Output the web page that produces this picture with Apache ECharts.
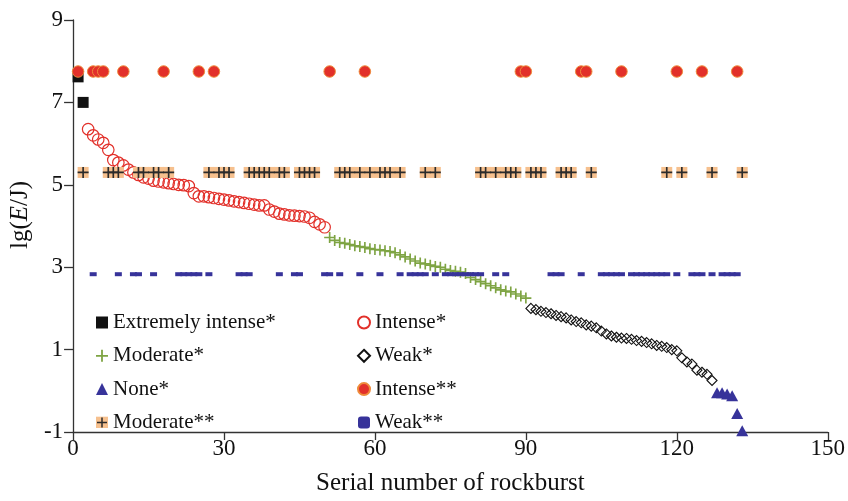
<!DOCTYPE html>
<html>
<head>
<meta charset="utf-8">
<script src="https://cdn.jsdelivr.net/npm/echarts@6/dist/echarts.min.js"></script>
<style>html,body{margin:0;padding:0;background:#fff;overflow:hidden}#c{width:848px;height:501px}</style>
</head>
<body>
<div id="c"></div>
<script>
// ---- data ----
var extremeX = [1, 2];
var extremeY = [7.62, 7.0];

var intenseX = [3,4,5,6,7,8,9,10,11,12,13,14,15,16,17,18,19,20,21,22,23,24,25,26,27,28,29,30,31,32,33,34,35,36,37,38,39,40,41,42,43,44,45,46,47,48,49,50];
var intenseY = [6.35,6.2,6.1,6.02,5.85,5.6,5.54,5.47,5.37,5.3,5.24,5.18,5.15,5.1,5.08,5.06,5.04,5.02,5.0,4.99,4.97,4.8,4.72,4.72,4.7,4.68,4.66,4.64,4.62,4.6,4.58,4.56,4.54,4.52,4.5,4.5,4.4,4.35,4.3,4.28,4.26,4.25,4.24,4.23,4.2,4.1,4.04,3.97];

var moderateX = [51,52,53,54,55,56,57,58,59,60,61,62,63,64,65,66,67,68,69,70,71,72,73,74,75,76,77,78,79,80,81,82,83,84,85,86,87,88,89,90];
var moderateY = [3.72,3.65,3.6,3.58,3.55,3.52,3.5,3.48,3.45,3.43,3.42,3.4,3.38,3.35,3.3,3.25,3.2,3.15,3.1,3.08,3.05,3.02,3.0,2.95,2.92,2.9,2.88,2.85,2.75,2.7,2.65,2.6,2.55,2.5,2.45,2.42,2.4,2.35,2.3,2.25];

var weakX = [91,92,93,94,95,96,97,98,99,100,101,102,103,104,105,106,107,108,109,110,111,112,113,114,115,116,117,118,119,120,121,122,123,124,125,126,127];
var weakY = [2.0,1.97,1.93,1.9,1.87,1.83,1.8,1.77,1.72,1.68,1.65,1.6,1.57,1.53,1.45,1.38,1.33,1.3,1.28,1.27,1.25,1.22,1.2,1.17,1.14,1.1,1.08,1.05,1.0,0.97,0.8,0.7,0.65,0.5,0.45,0.4,0.25];

var noneX = [128,129,130,131,132,133];
var noneY = [-0.05,-0.05,-0.08,-0.12,-0.55,-0.97];

var intense2X = [1,4,5,6,10,18,25,28,51,58,89,90,101,102,109,120,125,132];
var intense2Level = 7.75;

var moderate2X = [2,7,8,9,13,14,16,17,19,27,29,30,31,35,36,37,38,39,41,42,45,46,47,48,53,54,55,57,59,61,62,63,65,70,72,81,82,84,86,87,88,91,92,93,97,98,99,103,118,121,127,133];
var moderate2Level = 5.3;

var weak2X = [4,9,12,13,16,21,22,23,24,25,27,33,34,35,41,44,45,50,51,53,57,61,65,67,68,69,70,72,74,75,76,77,78,79,80,81,84,86,95,96,97,101,105,106,107,108,109,111,112,113,114,115,116,117,118,120,123,124,125,127,129,130,131,132];
var weak2Level = 2.83;

var xTicks = {min: 0, max: 150, interval: 30};
var yTicks = {min: -1, max: 9, interval: 2};

// ---- helpers ----
function pairs(xs, ys) { return xs.map(function (x, i) { return [x, ys[i]]; }); }
function level(xs, y) { return xs.map(function (x) { return [x, y]; }); }

var FONT = 'Liberation Serif';
var RED = '#e2302a', GREEN = '#7ea443', BLUE = '#37339a', ORANGE = '#f6c08e', DARK = '#2b2b2b';
var CROSS = 'path://M4.25,0H5.75V4.25H10V5.75H5.75V10H4.25V5.75H0V4.25H4.25Z';
var mod2Svg = "<svg xmlns='http://www.w3.org/2000/svg' width='24' height='24'><rect x='0' y='0' width='24' height='24' fill='#f6c08e'/><path d='M12 2V22M2 12H22' stroke='#2b2b2b' stroke-width='3'/></svg>";
var mod2Icon = 'image://data:image/svg+xml;charset=utf-8,' + encodeURIComponent(mod2Svg);

var chart = echarts.init(document.getElementById('c'), null, {renderer: 'canvas', width: 848, height: 501});
var legendText = {fontFamily: FONT, fontSize: 21, color: '#111', lineHeight: 21};

chart.setOption({
  animation: false,
  backgroundColor: '#fff',
  grid: {left: 72, right: 18, top: 20, bottom: 62, containLabel: false},
  xAxis: {
    type: 'value', min: xTicks.min, max: xTicks.max, interval: xTicks.interval,
    name: 'Serial number of rockburst', nameLocation: 'middle', nameGap: 39,
    nameTextStyle: {fontFamily: FONT, fontSize: 25, color: '#111'},
    axisLine: {show: true, onZero: false, lineStyle: {color: '#333', width: 1.3}},
    axisTick: {show: true, inside: false, length: 8, lineStyle: {color: '#333', width: 1.3}},
    axisLabel: {fontFamily: FONT, fontSize: 23, color: '#111', margin: 5},
    splitLine: {show: false}
  },
  yAxis: {
    type: 'value', min: yTicks.min, max: yTicks.max, interval: yTicks.interval,
    name: '{n|lg(}{i|E}{n|/J)}', nameLocation: 'middle', nameGap: 36, nameRotate: 90,
    nameTextStyle: {fontFamily: FONT, fontSize: 25, color: '#111', padding: [0, 0, 0, 22],
      rich: {n: {fontFamily: FONT, fontSize: 25, color: '#111'}, i: {fontFamily: FONT, fontSize: 25, color: '#111', fontStyle: 'italic'}}},
    axisLine: {show: true, onZero: false, lineStyle: {color: '#333', width: 1.3}},
    axisTick: {show: true, inside: false, length: 9, lineStyle: {color: '#333', width: 1.3}},
    axisLabel: {fontFamily: FONT, fontSize: 23, color: '#111', margin: 10},
    splitLine: {show: false}
  },
  legend: [
    {orient: 'vertical', left: 96, top: 312, padding: 0, itemWidth: 12, itemHeight: 12, itemGap: 12.3,
     textStyle: legendText, selectedMode: false,
     data: [{name: 'Extremely intense*'}, {name: 'Moderate*'}, {name: 'None*'}, {name: 'Moderate**', icon: mod2Icon}]},
    {orient: 'vertical', left: 357, top: 312, padding: 0, itemWidth: 12, itemHeight: 12, itemGap: 12.3,
     textStyle: legendText, selectedMode: false,
     data: [{name: 'Intense*'}, {name: 'Weak*'}, {name: 'Intense**'}, {name: 'Weak**', icon: 'roundRect'}]}
  ],
  series: [
    {name: 'Extremely intense*', type: 'scatter', symbol: 'rect', symbolSize: 11,
     itemStyle: {color: '#111', opacity: 1}, data: pairs(extremeX, extremeY)},
    {name: 'Intense*', type: 'scatter', symbol: 'circle', symbolSize: 11.5,
     itemStyle: {color: 'rgba(255,255,255,0)', borderColor: RED, borderWidth: 1.2, opacity: 1}, data: pairs(intenseX, intenseY)},
    {name: 'Moderate*', type: 'scatter', symbol: CROSS, symbolSize: 11,
     itemStyle: {color: GREEN, opacity: 1}, data: pairs(moderateX, moderateY)},
    {name: 'Weak*', type: 'scatter', symbol: 'diamond', symbolSize: 10,
     itemStyle: {color: 'rgba(255,255,255,0)', borderColor: '#111', borderWidth: 1.1, opacity: 1}, data: pairs(weakX, weakY)},
    {name: 'None*', type: 'scatter', symbol: 'triangle', symbolSize: [12, 11],
     itemStyle: {color: BLUE, opacity: 1}, data: pairs(noneX, noneY)},
    {name: 'Intense**', type: 'scatter', symbol: 'circle', symbolSize: 11.5,
     itemStyle: {color: RED, borderColor: '#ef8a3a', borderWidth: 1, opacity: 1}, data: level(intense2X, intense2Level)},
    {name: 'Moderate**', type: 'scatter', symbol: 'rect', symbolSize: 11,
     itemStyle: {color: ORANGE, opacity: 1}, data: level(moderate2X, moderate2Level)},
    {name: 'Moderate**', type: 'scatter', symbol: CROSS, symbolSize: 11,
     itemStyle: {color: DARK, opacity: 1}, data: level(moderate2X, moderate2Level)},
    {name: 'Weak**', type: 'scatter', symbol: 'rect', symbolSize: [7, 4],
     itemStyle: {color: BLUE, opacity: 1}, data: level(weak2X, weak2Level)}
  ]
});
</script>
</body>
</html>
